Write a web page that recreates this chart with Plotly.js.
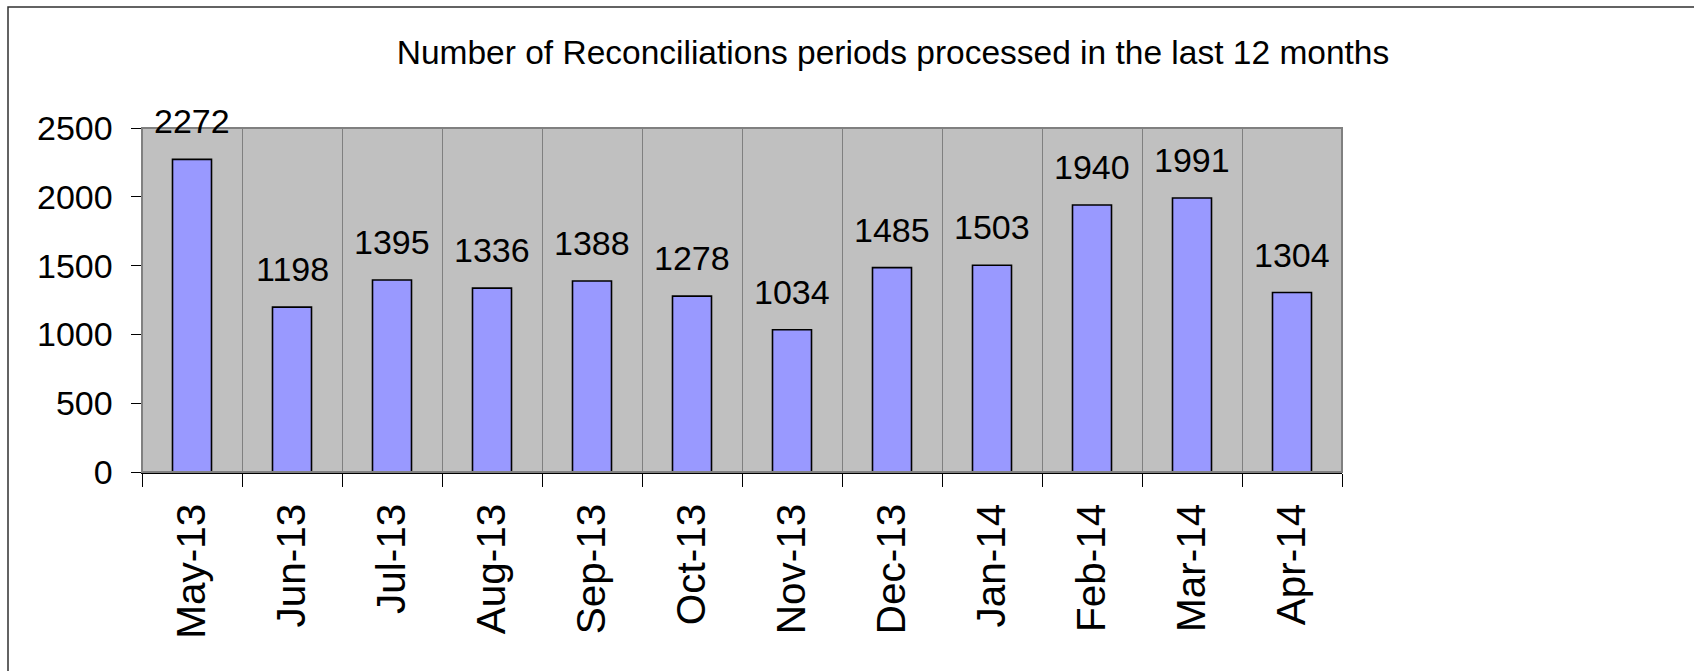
<!DOCTYPE html>
<html>
<head>
<meta charset="utf-8">
<script src="https://cdn.plot.ly/plotly-3.0.1.min.js"></script>
<style>
  html, body { margin: 0; padding: 0; background: #ffffff; }
  #chart { width: 1694px; height: 671px; }
</style>
</head>
<body>
<div id="chart"></div>
<script>
const chartTitle = "Number of Reconciliations periods processed in the last 12 months";
const months = ["May-13", "Jun-13", "Jul-13", "Aug-13", "Sep-13", "Oct-13", "Nov-13", "Dec-13", "Jan-14", "Feb-14", "Mar-14", "Apr-14"];
const reconciliations = [2272, 1198, 1395, 1336, 1388, 1278, 1034, 1485, 1503, 1940, 1991, 1304];
const yTicks = [0, 500, 1000, 1500, 2000, 2500];

const regular = "Liberation Sans, Arial, sans-serif";

const trace = {
  type: "bar",
  x: months,
  y: reconciliations,
  width: 0.39,
  marker: { color: "#9999FF", line: { color: "#000000", width: 1.6 } },
  hoverinfo: "x+y"
};

const labels = months.map((m, i) => ({
  x: m, y: reconciliations[i], xref: "x", yref: "y",
  text: String(reconciliations[i]), showarrow: false,
  yanchor: "bottom", yshift: 17,
  font: { family: regular, size: 34, color: "#000000" }
}));

const layout = {
  width: 1694, height: 671,
  margin: { l: 142, r: 352, t: 128, b: 199 },
  paper_bgcolor: "#ffffff",
  plot_bgcolor: "#C0C0C0",
  showlegend: false,
  bargap: 0.61,
  title: {
    text: chartTitle,
    font: { family: regular, size: 33.5, color: "#000000" },
    xref: "paper", x: (893 - 142) / 1200, xanchor: "center",
    yref: "container", y: 1 - 52 / 671, yanchor: "middle"
  },
  xaxis: {
    type: "category",
    tickson: "boundaries",
    ticks: "outside", ticklen: 13, tickwidth: 1, tickcolor: "#000000",
    tickangle: -90,
    ticklabelstandoff: 14,
    tickfont: { family: regular, size: 40.5, color: "#000000" },
    showgrid: true, gridcolor: "#808080", gridwidth: 1,
    showline: true, linecolor: "#000000", linewidth: 1.5,
    range: [-0.5, 11.5],
    fixedrange: true
  },
  yaxis: {
    range: [0, 2500],
    tickvals: yTicks,
    ticktext: yTicks.map(String),
    ticks: "outside", ticklen: 10, tickwidth: 1, tickcolor: "#000000",
    ticklabelstandoff: 11,
    tickfont: { family: regular, size: 34, color: "#000000" },
    showgrid: false, zeroline: false,
    showline: true, linecolor: "#404040", linewidth: 1.5,
    fixedrange: true
  },
  annotations: labels,
  shapes: [
    { type: "rect", xref: "paper", yref: "paper", x0: 0, x1: 1, y0: 0, y1: 1,
      line: { color: "#808080", width: 2 }, fillcolor: "rgba(0,0,0,0)", layer: "above" },
    { type: "rect", xref: "paper", yref: "paper",
      x0: (8 - 142) / 1200, x1: 1.5, y0: -1, y1: (472 - 7) / 344,
      line: { color: "#303030", width: 1.5 }, fillcolor: "rgba(0,0,0,0)", layer: "below" }
  ]
};

Plotly.newPlot("chart", [trace], layout, { displayModeBar: false, staticPlot: true });
</script>
</body>
</html>
